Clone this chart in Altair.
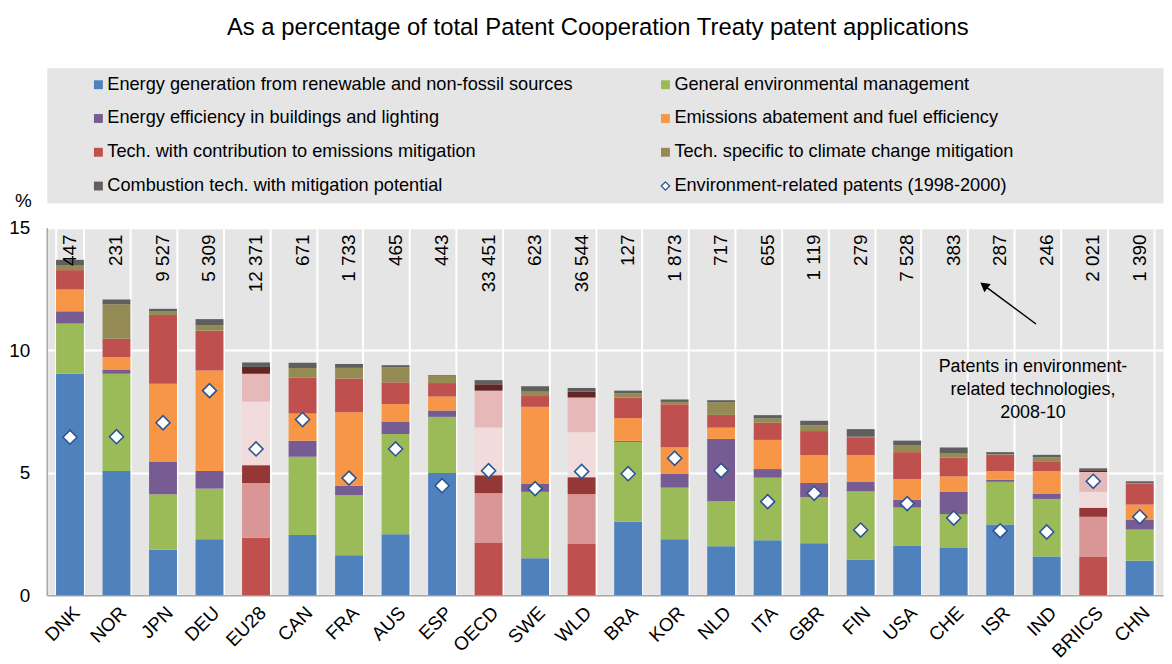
import altair as alt
import pandas as pd

countries = ["DNK", "NOR", "JPN", "DEU", "EU28", "CAN", "FRA", "AUS", "ESP", "OECD", "SWE", "WLD",
             "BRA", "KOR", "NLD", "ITA", "GBR", "FIN", "USA", "CHE", "ISR", "IND", "BRIICS", "CHN"]
aggregates = ["EU28", "OECD", "WLD", "BRIICS"]

series = ["Energy generation from renewable and non-fossil sources",
          "General environmental management",
          "Energy efficiency in buildings and lighting",
          "Emissions abatement and fuel efficiency",
          "Tech. with contribution to emissions mitigation",
          "Tech. specific to climate change mitigation",
          "Combustion tech. with mitigation potential"]
diamond_label = "Environment-related patents (1998-2000)"

renewable = [9.04, 5.07, 1.86, 2.28, 2.35, 2.46, 1.63, 2.49, 4.99, 2.15, 1.51, 2.11,
             3.00, 2.28, 2.00, 2.24, 2.12, 1.45, 2.03, 1.93, 2.89, 1.58, 1.58, 1.41]
general = [2.05, 3.97, 2.26, 2.07, 2.23, 3.19, 2.45, 4.09, 2.29, 2.02, 2.71, 2.02,
           3.26, 2.11, 1.84, 2.56, 1.89, 2.79, 1.55, 1.38, 1.74, 2.35, 1.62, 1.27]
buildings = [0.50, 0.17, 1.32, 0.72, 0.73, 0.65, 0.39, 0.51, 0.26, 0.73, 0.32, 0.69,
             0.04, 0.56, 2.54, 0.35, 0.57, 0.38, 0.31, 0.92, 0.08, 0.22, 0.37, 0.39]
abatement = [0.89, 0.51, 3.19, 4.10, 2.59, 1.12, 3.00, 0.71, 0.57, 1.95, 3.15, 1.83,
             0.93, 1.09, 0.46, 1.19, 1.14, 1.10, 0.85, 0.62, 0.36, 0.92, 0.65, 0.63]
contribution = [0.79, 0.75, 2.81, 1.63, 1.14, 1.46, 1.38, 0.89, 0.55, 1.50, 0.44, 1.42,
                0.84, 1.76, 0.52, 0.70, 0.98, 0.73, 1.10, 0.77, 0.67, 0.37, 0.81, 0.85]
climate = [0.21, 1.41, 0.14, 0.23, 0.28, 0.39, 0.43, 0.62, 0.30, 0.26, 0.18, 0.24,
           0.17, 0.09, 0.52, 0.18, 0.24, 0.02, 0.27, 0.16, 0.02, 0.19, 0.07, 0.03]
combustion = [0.21, 0.19, 0.11, 0.24, 0.18, 0.22, 0.16, 0.08, 0.03, 0.17, 0.22, 0.15,
              0.11, 0.10, 0.08, 0.13, 0.18, 0.31, 0.20, 0.25, 0.08, 0.10, 0.08, 0.07]
patents_1998_2000 = [6.45, 6.47, 7.04, 8.35, 5.97, 7.17, 4.78, 5.97, 4.47, 5.08, 4.35, 5.05,
                     4.96, 5.59, 5.09, 3.82, 4.16, 2.66, 3.74, 3.15, 2.63, 2.58, 4.65, 3.20]
counts_2008_10 = ["447", "231", "9 527", "5 309", "12 371", "671", "1 733", "465", "443", "33 451",
                  "623", "36 544", "127", "1 873", "717", "655", "1 119", "279", "7 528", "383",
                  "287", "246", "2 021", "1 390"]

series_colors = ["#4F81BD", "#9BBB59", "#765C93", "#F79646", "#C0504D", "#948A54", "#5F5F5F"]
agg_keys = ["agg%d" % j for j in range(7)]
agg_colors = ["#C0504D", "#D99694", "#953735", "#F2DCDB", "#E6B9B8", "#632523", "#5F5F5F"]
diamond_stroke = "#2B5592"

FONT = "Liberation Sans"
W, H = 1124, 370
STEP = W / len(countries)

# ---------- main data ----------
all_values = [renewable, general, buildings, abatement, contribution, climate, combustion]
rows = []
for i, c in enumerate(countries):
    for j, vals in enumerate(all_values):
        key = agg_keys[j] if c in aggregates else series[j]
        rows.append({"country": c, "key": key, "ord": j, "value": vals[i], "series": series[j]})
bars_df = pd.DataFrame(rows)
pts_df = pd.DataFrame({"country": countries, "value": patents_1998_2000, "count": counts_2008_10})

color_scale = alt.Scale(domain=series + agg_keys, range=series_colors + agg_colors)

x_enc = alt.X("country:N", sort=countries,
              scale=alt.Scale(paddingInner=0.4, paddingOuter=0.2),
              axis=alt.Axis(title=None, labelAngle=-45, labelFontSize=19, labelColor="#000000",
                            labelFont=FONT, ticks=False, domainColor="#A6A6A6", domainWidth=1.5,
                            grid=True, gridColor="white", gridWidth=2, tickBand="extent",
                            labelPadding=8))

bars = alt.Chart(bars_df).mark_bar().encode(
    x=x_enc,
    y=alt.Y("value:Q", stack="zero",
            scale=alt.Scale(domain=[0, 15], nice=False),
            axis=alt.Axis(values=[0, 5, 10, 15], title="%", titleAngle=0, titleX=-24, titleY=-27,
                          titleFontSize=19, titleFontWeight="normal", titleFont=FONT,
                          titleColor="#000000", titleAlign="center", titleBaseline="middle",
                          labelFontSize=19, labelFont=FONT, labelColor="#000000", labelPadding=17,
                          ticks=False, gridColor="white", gridWidth=2,
                          domainColor="#A6A6A6", domainWidth=1.5)),
    color=alt.Color("key:N", scale=color_scale, legend=None),
    order=alt.Order("ord:Q", sort="ascending"),
)

diamonds = alt.Chart(pts_df).mark_point(
    shape="diamond", filled=True, fill="white", stroke=diamond_stroke, strokeWidth=1.6,
    size=200, opacity=1
).encode(x=alt.X("country:N", sort=countries), y="value:Q")

count_text = alt.Chart(pts_df).mark_text(
    angle=270, align="right", baseline="middle", fontSize=19, font=FONT, color="#000000"
).encode(x=alt.X("country:N", sort=countries), y=alt.datum(14.72), text="count:N")

annot_df = pd.DataFrame({"country": ["ISR"],
                         "label": [["Patents in environment-", "related technologies,", "2008-10"]]})
annot = alt.Chart(annot_df).mark_text(
    align="center", baseline="middle", fontSize=18, font=FONT, color="#000000",
    lineHeight=23, dx=33
).encode(x=alt.X("country:N", sort=countries), y=alt.datum(9.3), text="label")

# arrow (annotation geometry, in band steps / axis units)
tail_x, tail_y = 21.27 * STEP, H - 11.07 * H / 15
head_x, head_y = 20.15 * STEP, H - 12.65 * H / 15
arrow_df = pd.DataFrame({"k": [0]})
arrow_line = alt.Chart(arrow_df).mark_rule(color="black", strokeWidth=1.5).encode(
    x=alt.value(tail_x), x2=alt.value(head_x), y=alt.value(tail_y), y2=alt.value(head_y))
arrow_head = alt.Chart(arrow_df).mark_point(
    shape="triangle-up", filled=True, color="black", size=110, angle=307.5, opacity=1
).encode(x=alt.value(head_x), y=alt.value(head_y))

main = alt.layer(bars, diamonds, count_text, annot, arrow_line, arrow_head).properties(
    width=W, height=H)

# ---------- legend panel ----------
leg_rows = []
for idx, name in enumerate(series + [diamond_label]):
    leg_rows.append({"name": name, "col": idx % 2, "row": idx // 2,
                     "kind": "diamond" if name == diamond_label else "square"})
leg_df = pd.DataFrame(leg_rows)
lx = alt.X("col:Q", scale=alt.Scale(domain=[0, 1], range=[52, 623]), axis=None)
ly = alt.Y("row:Q", scale=alt.Scale(domain=[0, 3], range=[17, 119]), axis=None)

leg_sq = alt.Chart(leg_df).transform_filter(alt.datum.kind == "square").mark_point(
    shape="square", filled=True, size=80, opacity=1
).encode(x=lx, y=ly, color=alt.Color("name:N", scale=color_scale, legend=None))
leg_dia = alt.Chart(leg_df).transform_filter(alt.datum.kind == "diamond").mark_point(
    shape="diamond", filled=True, fill="white", stroke=diamond_stroke, strokeWidth=1.3,
    size=70, opacity=1
).encode(x=lx, y=ly)
leg_txt = alt.Chart(leg_df).mark_text(
    align="left", baseline="middle", dx=9, fontSize=18.3, font=FONT, color="#000000"
).encode(x=lx, y=ly, text="name:N")

legend_panel = alt.layer(leg_sq, leg_dia, leg_txt).properties(width=W, height=136)

chart = alt.vconcat(legend_panel, main, spacing=25, bounds="flush").resolve_scale(
    color="independent"
).properties(
    title=alt.Title("As a percentage of total Patent Cooperation Treaty patent applications",
                    fontSize=24, font=FONT, fontWeight="normal", color="#000000",
                    anchor="middle", offset=35, dy=7, dx=12),
    padding={"left": 0, "top": 5, "right": 0, "bottom": 0},
).configure(font=FONT).configure_view(fill="#E5E5E5", stroke="transparent")

chart.save("out.html", embed_options={"renderer": "svg", "actions": False})
